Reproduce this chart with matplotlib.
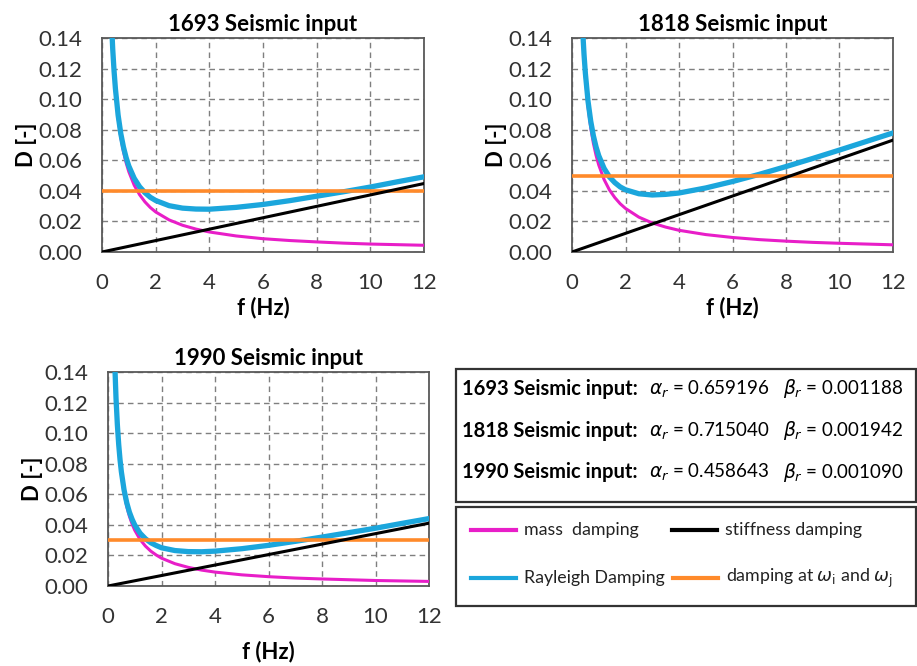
import matplotlib
matplotlib.use("Agg")
import matplotlib.pyplot as plt
from matplotlib.patches import Rectangle
from matplotlib.lines import Line2D

plt.rcParams['font.family'] = ['Lato', 'DejaVu Sans']

# frequency samples
f = [0.25, 0.3, 0.35, 0.4, 0.45, 0.5, 0.6, 0.7, 0.8, 0.9, 1.0, 1.2, 1.4, 1.6, 1.8,
     2.0, 2.5, 3.0, 3.5, 4.0, 5.0, 6.0, 7.0, 8.0, 9.0, 10.0, 11.0, 12.0]
f_lin = [0, 12]

# 1693
mass_1693 = [0.2098, 0.1749, 0.1499, 0.1311, 0.1166, 0.1049, 0.0874, 0.0749, 0.0656, 0.0583,
             0.0525, 0.0437, 0.0375, 0.0328, 0.0291, 0.0262, 0.0210, 0.0175, 0.0150, 0.0131,
             0.0105, 0.0087, 0.0075, 0.0066, 0.0058, 0.0052, 0.0048, 0.0044]
ray_1693 = [0.2107, 0.1760, 0.1512, 0.1326, 0.1183, 0.1068, 0.0896, 0.0775, 0.0686, 0.0617,
            0.0562, 0.0482, 0.0427, 0.0388, 0.0358, 0.0337, 0.0303, 0.0287, 0.0281, 0.0280,
            0.0292, 0.0311, 0.0336, 0.0365, 0.0394, 0.0425, 0.0459, 0.0492]
stiff_1693 = [0.0, 0.0448]
target_1693 = 0.04

# 1818
mass_1818 = [0.2276, 0.1897, 0.1626, 0.1423, 0.1264, 0.1138, 0.0948, 0.0813, 0.0711, 0.0632,
             0.0569, 0.0474, 0.0406, 0.0356, 0.0316, 0.0285, 0.0228, 0.0190, 0.0163, 0.0142,
             0.0114, 0.0095, 0.0081, 0.0071, 0.0063, 0.0057, 0.0052, 0.0047]
ray_1818 = [0.2291, 0.1915, 0.1647, 0.1447, 0.1291, 0.1169, 0.0985, 0.0856, 0.0760, 0.0687,
            0.0630, 0.0547, 0.0491, 0.0454, 0.0426, 0.0407, 0.0381, 0.0373, 0.0377, 0.0386,
            0.0419, 0.0461, 0.0508, 0.0559, 0.0612, 0.0667, 0.0723, 0.0779]
stiff_1818 = [0.0, 0.0732]
target_1818 = 0.05

# 1990
mass_1990 = [0.1460, 0.1217, 0.1043, 0.0912, 0.0811, 0.0730, 0.0608, 0.0521, 0.0456, 0.0406,
             0.0365, 0.0304, 0.0261, 0.0228, 0.0203, 0.0182, 0.0146, 0.0122, 0.0104, 0.0091,
             0.0073, 0.0061, 0.0052, 0.0046, 0.0041, 0.0036, 0.0033, 0.0030]
ray_1990 = [0.1469, 0.1227, 0.1055, 0.0926, 0.0826, 0.0747, 0.0629, 0.0545, 0.0483, 0.0437,
            0.0399, 0.0345, 0.0309, 0.0283, 0.0265, 0.0250, 0.0232, 0.0225, 0.0224, 0.0228,
            0.0244, 0.0266, 0.0292, 0.0320, 0.0349, 0.0378, 0.0410, 0.0441]
stiff_1990 = [0.0, 0.0411]
target_1990 = 0.03

titles = ["1693 Seismic input", "1818 Seismic input", "1990 Seismic input"]
params = [("0.659196", "0.001188"), ("0.715040", "0.001942"), ("0.458643", "0.001090")]

C_MASS = "#e81ec8"
C_RAY = "#1ba6dc"
C_ORANGE = "#ff8a2a"
C_STIFF = "black"

W, H = 917, 666
fig = plt.figure(figsize=(W / 100, H / 100), dpi=100)


def px_axes(x0, y0, x1, y1):
    return fig.add_axes([x0 / W, 1 - y1 / H, (x1 - x0) / W, (y1 - y0) / H])


def panel(ax, title, mass, ray, stiff, target):
    ax.plot(f, mass, color=C_MASS, lw=2.2, zorder=3)
    ax.plot(f, ray, color=C_RAY, lw=3.8, zorder=4)
    ax.axhline(target, color=C_ORANGE, lw=2.6, zorder=5)
    ax.plot(f_lin, stiff, color=C_STIFF, lw=2.2, zorder=6)
    ax.set_xlim(0, 12)
    ax.set_ylim(0, 0.14)
    ax.set_xticks(range(0, 13, 2))
    ax.set_yticks([0, 0.02, 0.04, 0.06, 0.08, 0.10, 0.12, 0.14])
    ax.set_yticklabels(["0.00", "0.02", "0.04", "0.06", "0.08", "0.10", "0.12", "0.14"])
    ax.grid(True, color="#7f7f7f", ls=(0, (4, 3)), lw=1.0)
    ax.tick_params(length=0, labelsize=16, colors="#333333")
    ax.tick_params(axis="x", pad=15)
    ax.tick_params(axis="y", pad=14)
    for s in ax.spines.values():
        s.set_color("#595959")
        s.set_linewidth(1.3)
    ax.set_title(title, fontsize=16, fontweight="bold", pad=5)
    ax.set_xlabel("f (Hz)", fontsize=16, fontweight="bold", labelpad=3)
    ax.set_ylabel("D [-]", fontsize=16, fontweight="bold", labelpad=1)


ax1 = px_axes(102, 38, 424, 252)
ax2 = px_axes(572, 38, 893, 252)
ax3 = px_axes(108, 372, 429, 586)
panel(ax1, titles[0], mass_1693, ray_1693, stiff_1693, target_1693)
panel(ax2, titles[1], mass_1818, ray_1818, stiff_1818, target_1818)
panel(ax3, titles[2], mass_1990, ray_1990, stiff_1990, target_1990)
ax3.xaxis.labelpad = 10

# parameter box
fig.patches.append(Rectangle((456 / W, 1 - 502 / H), (916 - 456) / W, (502 - 369) / H,
                             transform=fig.transFigure, fill=False, ec="#333333", lw=1.6))
rows_y = [389, 431, 472]
for (a, b), t, y in zip(params, titles, rows_y):
    fig.text(462 / W, 1 - y / H, t + ":", fontsize=14.5, fontweight="bold", va="center")
    fig.text(649 / W, 1 - y / H, r"$\alpha_r$ = " + a, fontsize=13.5, va="center")
    fig.text(783 / W, 1 - y / H, r"$\beta_r$ = " + b, fontsize=13.5, va="center")

# legend box
fig.patches.append(Rectangle((456 / W, 1 - 606 / H), (916 - 456) / W, (606 - 507) / H,
                             transform=fig.transFigure, fill=False, ec="#333333", lw=1.6))
legend_items = [
    (471, 530, C_MASS, "mass  damping"),
    (672, 530, C_STIFF, "stiffness damping"),
    (471, 578, C_RAY, "Rayleigh Damping"),
    (673, 578, C_ORANGE, r"damping at $\omega_\mathrm{i}$ and $\omega_\mathrm{j}$"),
]
for x, y, c, lab in legend_items:
    fig.lines.append(Line2D([x / W, (x + 45) / W], [1 - y / H, 1 - y / H],
                            transform=fig.transFigure, color=c, lw=3))
    fig.text((x + 53) / W, 1 - y / H, lab, fontsize=12.8, va="center", color="#222222")

fig.savefig("out.png", dpi=100)
